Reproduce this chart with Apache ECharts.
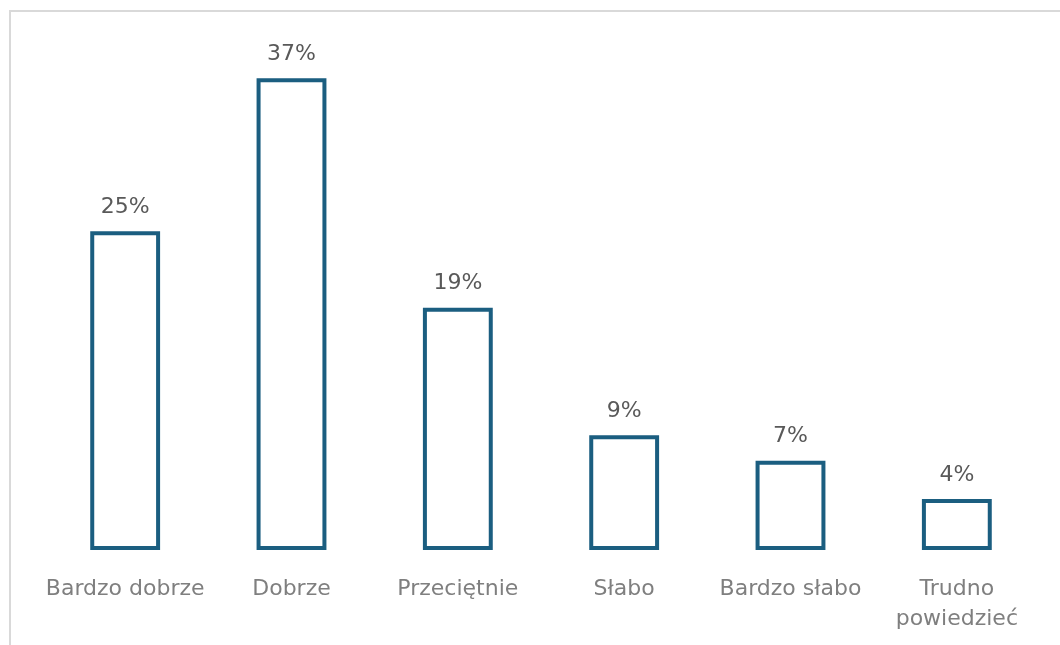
<!DOCTYPE html>
<html>
<head>
<meta charset="utf-8">
<script src="https://cdn.jsdelivr.net/npm/echarts@6/dist/echarts.min.js"></script>
<style>
  html, body { margin: 0; padding: 0; background: #fff; }
  #chart { width: 1060px; height: 645px; }
</style>
</head>
<body>
<div id="chart"></div>
<script>
var categories = ['Bardzo dobrze', 'Dobrze', 'Przeciętnie', 'Słabo', 'Bardzo słabo', 'Trudno\npowiedzieć'];
var values = [25, 37, 19, 9, 7, 4];

var chart = echarts.init(document.getElementById('chart'));

var option = {
    animation: false,
    textStyle: { fontFamily: 'DejaVu Sans' },
    graphic: [{
        type: 'rect',
        shape: { x: 10, y: 11, width: 1100, height: 700 },
        style: { fill: 'none', stroke: '#d9d9d9', lineWidth: 2 },
        silent: true
    }],
    grid: { left: 42, right: 20, top: 40, bottom: 95 },
    xAxis: {
        type: 'category',
        data: categories,
        axisLine: { show: false },
        axisTick: { show: false },
        axisLabel: {
            color: '#7f7f7f',
            fontSize: 22,
            lineHeight: 30,
            margin: 24,
            interval: 0
        }
    },
    yAxis: {
        type: 'value',
        min: 0,
        max: 40,
        show: false,
        splitLine: { show: false }
    },
    series: [{
        type: 'bar',
        data: values,
        barWidth: '42%',
        itemStyle: {
            color: '#ffffff',
            borderColor: '#1b5e80',
            borderWidth: 4
        },
        label: {
            show: true,
            position: 'top',
            distance: 13,
            color: '#595959',
            fontSize: 22,
            formatter: '{c}%'
        }
    }]
};

chart.setOption(option);
</script>
</body>
</html>
